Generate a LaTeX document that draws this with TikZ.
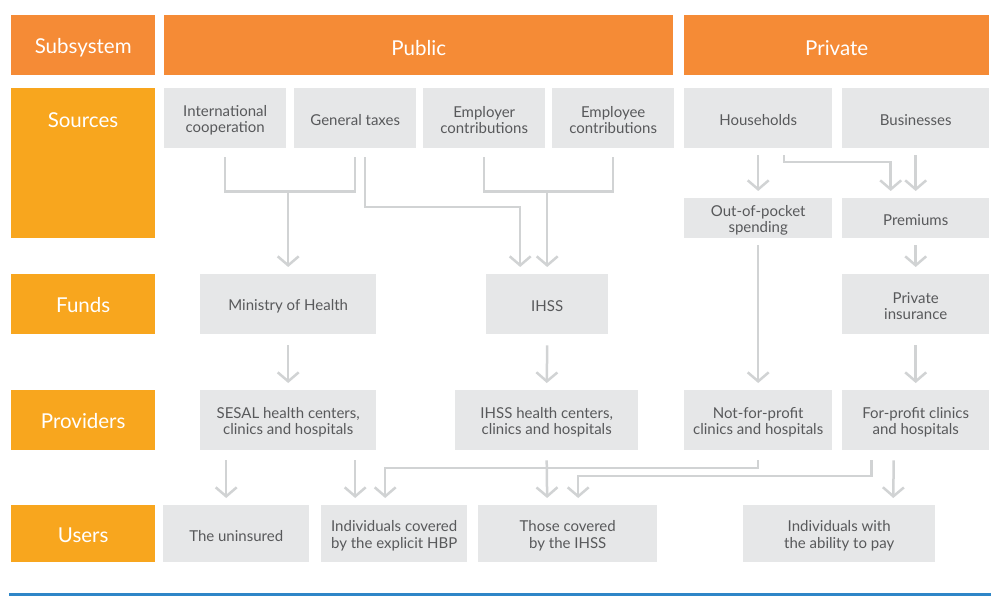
\documentclass[tikz,border=0pt]{standalone}
\usepackage{fontspec}
\setmainfont{Lato}
\usetikzlibrary{arrows.meta,calc}
\definecolor{hdrorange}{HTML}{F58B36}
\definecolor{lblorange}{HTML}{F8A61E}
\definecolor{boxgray}{HTML}{E6E7E8}
\definecolor{txtgray}{HTML}{58595B}
\definecolor{linegray}{HTML}{D1D3D4}
\definecolor{bluerule}{HTML}{2E86C8}
\tikzset{
  hdr/.style={fill=hdrorange, anchor=north west, inner sep=0pt},
  lbl/.style={fill=lblorange, anchor=north west, inner sep=0pt},
  whitetext/.style={text=white, font=\fontsize{20.5}{23}\selectfont, inner sep=0pt},
  gbox/.style={fill=boxgray, anchor=north west, inner sep=0pt},
  graytext/.style={text=txtgray, font=\fontsize{15}{16.5}\selectfont, align=center, inner sep=0pt},
  ln/.style={draw=linegray, line width=2.5pt},
  arr/.style={draw=linegray, line width=2.5pt, -{Straight Barb[length=9pt,width=21pt]}, shorten >=7pt}
}
% box: [box style]{name}{x}{y}{w}{h}{text style}{text shift}{text}
\newcommand\bx[9][gbox]{\node[#1, minimum width=#5pt, minimum height=#6pt] (#2) at (#3,#4) {};
  \node[#7] (#2t) at ($(#2.center)+(0,#8)$) {#9};}
\newcommand\gb[6]{\bx{#1}{#2}{#3}{#4}{#5}{graytext}{2}{#6}}
\begin{document}
\begin{tikzpicture}[x=1pt,y=-1pt]
\useasboundingbox (0,0) rectangle (994,596);
% headers
\bx[hdr]{hsub}{11}{15}{144}{60}{whitetext}{2.5}{Subsystem}
\bx[hdr]{hpub}{164}{15}{509}{60}{whitetext}{2.5}{Public}
\bx[hdr]{hpri}{684}{15}{305}{60}{whitetext}{2.5}{Private}
% row labels
\node[lbl, minimum width=144pt, minimum height=150pt] (lsrc) at (11,88) {};
\node[whitetext] (lsrct) at (83,120) {Sources};
\bx[lbl]{lfun}{11}{274}{144}{60}{whitetext}{1}{Funds}
\bx[lbl]{lpro}{11}{390}{144}{60}{whitetext}{1}{Providers}
\bx[lbl]{luse}{11}{505}{144}{57}{whitetext}{1.5}{Users}
% sources
\gb{ic}{164}{88}{122}{60}{International\\cooperation}
\gb{gt}{294}{88}{122}{60}{General taxes}
\gb{emr}{423}{88}{122}{60}{Employer\\contributions}
\gb{eme}{552}{88}{122}{60}{Employee\\contributions}
\gb{hh}{684}{88}{148}{60}{Households}
\gb{bus}{842}{88}{147}{60}{Businesses}
\gb{oop}{684}{198}{148}{40}{Out-of-pocket\\spending}
\gb{prem}{842}{198}{147}{40}{Premiums}
% funds
\gb{moh}{200}{274}{176}{60}{Ministry of Health}
\gb{ihss}{486}{274}{122}{60}{IHSS}
\gb{pins}{842}{274}{147}{60}{Private\\insurance}
% providers
\gb{sesal}{200}{390}{176}{60}{SESAL health centers,\\clinics and hospitals}
\gb{ihssc}{455}{390}{183}{60}{IHSS health centers,\\clinics and hospitals}
\gb{nfp}{684}{390}{148}{60}{Not-for-profit\\clinics and hospitals}
\gb{fp}{842}{390}{147}{60}{For-profit clinics\\and hospitals}
% users
\gb{unins}{163}{505}{146}{57}{The uninsured}
\gb{hbp}{321}{505}{146}{57}{Individuals covered\\by the explicit HBP}
\gb{those}{478}{505}{179}{57}{Those covered\\by the IHSS}
\gb{abl}{743}{505}{192}{57}{Individuals with\\the ability to pay}
% connectors: sources -> funds
\draw[ln] ($(ic.south)+(0,9)$) |- ($(gt.south)+(0,43)$) -- ($(gt.south)+(0,9)$);
\coordinate (j1) at ($(ic.south)+(0,43)$);
\draw[arr] (j1 -| moh.north) -- (moh.north);
\draw[arr] ($(gt.south)+(10,9)$) |- ($(ihss.north)+(-27,-67)$) -- ($(ihss.north)+(-27,0)$);
\draw[ln] ($(emr.south)+(0,9)$) |- ($(eme.south)+(0,43)$) -- ($(eme.south)+(0,9)$);
\coordinate (j2) at ($(emr.south)+(0,43)$);
\draw[arr] (j2 -| ihss.north) -- (ihss.north);
\draw[arr] ($(hh.south)+(0,7)$) -- (oop.north);
\draw[arr] ($(hh.south)+(26,7)$) |- ($(prem.north)+(-25,-36)$) -- ($(prem.north)+(-25,0)$);
\draw[arr] ($(bus.south)+(0,7)$) -- (prem.north);
\draw[arr] ($(prem.south)+(0,7)$) -- (pins.north);
\draw[arr] ($(oop.south)+(0,7)$) -- (nfp.north);
% funds -> providers
\draw[arr] ($(moh.south)+(0,11)$) -- (sesal.north);
\draw[arr] ($(ihss.south)+(0,11)$) -- (ihssc.north);
\draw[arr] ($(pins.south)+(0,11)$) -- (fp.north);
% providers -> users
\draw[arr] ($(sesal.south)+(-62,10)$) -- ($(unins.north)+(-10,0)$);
\draw[arr] ($(sesal.south)+(67,10)$) -- ($(hbp.north)+(-39,0)$);
\draw[arr] ($(ihssc.south)+(0,10)$) -- ($(those.north)+(-20.5,0)$);
\draw[arr] ($(nfp.south)+(0,10)$) |- ($(hbp.north)+(-9,-37)$) -- ($(hbp.north)+(-9,0)$);
\draw[arr] ($(fp.south)+(-44,10)$) |- ($(those.north)+(10.5,-29)$) -- ($(those.north)+(10.5,0)$);
\draw[arr] ($(fp.south)+(-22,10)$) -- ($(abl.north)+(54,0)$);
% bottom rule
\fill[bluerule] (9,593) rectangle (991,596.5);
\end{tikzpicture}
\end{document}
